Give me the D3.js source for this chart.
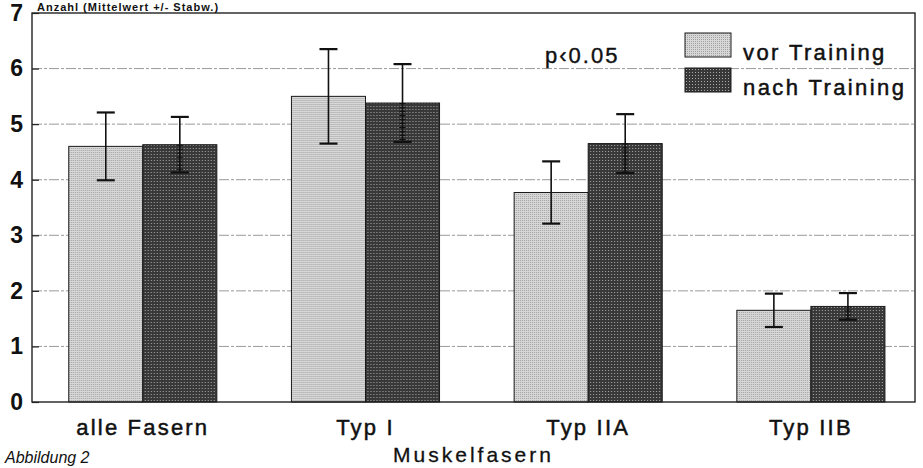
<!DOCTYPE html>
<html>
<head>
<meta charset="utf-8">
<script src="https://cdn.jsdelivr.net/npm/d3@7"></script>
<style>
  body { margin: 0; background: #fff; }
  svg { display: block; }
  text { font-family: "Liberation Sans", Arial, sans-serif; fill: #111; }
</style>
</head>
<body>
<div id="chart"></div>
<script>
// categories and series
const categories = ['alle Fasern', 'Typ I', 'Typ IIA', 'Typ IIB'];
const seriesNames = ['vor Training', 'nach Training'];
const vorMean = [4.60, 5.50, 3.77, 1.65];
const vorSd = [0.61, 0.85, 0.56, 0.30];
const nachMean = [4.63, 5.38, 4.65, 1.72];
const nachSd = [0.50, 0.70, 0.53, 0.24];
const yTicks = [0, 1, 2, 3, 4, 5, 6, 7];

const width = 923;
const height = 468;
const margin = { top: 13, right: 8, bottom: 66, left: 32 };

const svg = d3.select('#chart')
  .append('svg')
  .attr('width', width)
  .attr('height', height);

// fill patterns imitating the printed screen tones
const defs = svg.append('defs');
const pVor = defs.append('pattern')
  .attr('id', 'pat-vor')
  .attr('width', 2).attr('height', 2)
  .attr('patternUnits', 'userSpaceOnUse');
pVor.append('rect').attr('width', 2).attr('height', 2).attr('fill', '#d8d8d8');
pVor.append('rect').attr('width', 1).attr('height', 1).attr('fill', '#a0a0a0');

const pNach = defs.append('pattern')
  .attr('id', 'pat-nach')
  .attr('width', 3).attr('height', 3)
  .attr('patternUnits', 'userSpaceOnUse');
pNach.append('rect').attr('width', 3).attr('height', 3).attr('fill', '#383838');
pNach.append('rect').attr('x', 1).attr('y', 1).attr('width', 1).attr('height', 1).attr('fill', '#a8a8a8');

const x = d3.scaleBand()
  .domain(categories)
  .range([margin.left, width - margin.right])
  .paddingInner(0.335)
  .paddingOuter(0.15)
  .align(0.55);

const xSub = d3.scaleBand()
  .domain(seriesNames)
  .range([0, x.bandwidth()]);

const y = d3.scaleLinear()
  .domain([0, 7])
  .range([height - margin.bottom, margin.top]);

// dashed grid lines
svg.append('g')
  .selectAll('line')
  .data(yTicks.slice(1, -1))
  .join('line')
  .attr('x1', margin.left)
  .attr('x2', width - margin.right)
  .attr('y1', d => y(d))
  .attr('y2', d => y(d))
  .attr('stroke', '#9a9a9a')
  .attr('stroke-width', 1)
  .attr('stroke-dasharray', '10,2,3,2');

// y axis labels
const yAxis = d3.axisLeft(y).tickValues(yTicks).tickSize(-7).tickPadding(9).tickFormat(d3.format('d'));
const gy = svg.append('g')
  .attr('transform', `translate(${margin.left},0)`)
  .call(yAxis);
gy.select('.domain').remove();
gy.selectAll('line').attr('stroke', '#222').attr('stroke-width', 1.2);
gy.selectAll('text')
  .style('font-size', '23px')
  .style('font-weight', 'bold')
  .attr('fill', '#111');

// table of bars built from arrays
const rows = categories.map((c, i) => ({
  cat: c,
  values: [
    { name: seriesNames[0], mean: vorMean[i], sd: vorSd[i], fill: 'url(#pat-vor)', dark: false },
    { name: seriesNames[1], mean: nachMean[i], sd: nachSd[i], fill: 'url(#pat-nach)', dark: true },
  ],
}));

const groups = svg.append('g')
  .selectAll('g')
  .data(rows)
  .join('g')
  .attr('transform', d => `translate(${x(d.cat)},0)`);

groups.selectAll('rect')
  .data(d => d.values)
  .join('rect')
  .attr('x', d => xSub(d.name))
  .attr('y', d => y(d.mean))
  .attr('width', xSub.bandwidth())
  .attr('height', d => y(0) - y(d.mean))
  .attr('fill', d => d.fill)
  .attr('stroke', '#1a1a1a')
  .attr('stroke-width', 1);

// error bars
const err = groups.selectAll('g.err')
  .data(d => d.values)
  .join('g')
  .attr('class', 'err')
  .attr('transform', d => `translate(${xSub(d.name) + xSub.bandwidth() / 2},0)`);

err.append('line')
  .attr('y1', d => y(d.mean + d.sd))
  .attr('y2', d => y(d.mean - d.sd))
  .attr('stroke', '#111')
  .attr('stroke-width', 1.6);

// ladder look of the lower whisker inside the dark bars
err.filter(d => d.dark)
  .append('line')
  .attr('y1', d => y(d.mean))
  .attr('y2', d => y(d.mean - d.sd))
  .attr('stroke', '#111')
  .attr('stroke-width', 6)
  .attr('stroke-dasharray', '1,3');

err.append('line')
  .attr('x1', -9).attr('x2', 9)
  .attr('y1', d => y(d.mean + d.sd))
  .attr('y2', d => y(d.mean + d.sd))
  .attr('stroke', '#111')
  .attr('stroke-width', 2.2);

err.append('line')
  .attr('x1', -9).attr('x2', 9)
  .attr('y1', d => y(d.mean - d.sd))
  .attr('y2', d => y(d.mean - d.sd))
  .attr('stroke', '#111')
  .attr('stroke-width', 2.2);

// frame
svg.append('rect')
  .attr('x', margin.left)
  .attr('y', y(7))
  .attr('width', width - margin.right - margin.left)
  .attr('height', y(0) - y(7))
  .attr('fill', 'none')
  .attr('stroke', '#222')
  .attr('stroke-width', 1.4);

// category labels
svg.append('g')
  .selectAll('text')
  .data(categories)
  .join('text')
  .attr('x', d => x(d) + x.bandwidth() / 2)
  .attr('y', 435)
  .attr('text-anchor', 'middle')
  .style('font-size', '22px')
  .style('letter-spacing', '2.2px')
  .style('stroke', '#111')
  .style('stroke-width', 0.5)
  .text(d => d);

// x axis title
svg.append('text')
  .attr('x', (margin.left + width - margin.right) / 2)
  .attr('y', 462)
  .attr('text-anchor', 'middle')
  .style('font-size', '21px')
  .style('letter-spacing', '3px')
  .style('stroke', '#111')
  .style('stroke-width', 0.3)
  .text('Muskelfasern');

// figure caption
svg.append('text')
  .attr('x', 5)
  .attr('y', 463)
  .style('font-size', '16px')
  .style('font-style', 'italic')
  .attr('fill', '#333')
  .text('Abbildung 2');

// y axis title above the frame
svg.append('text')
  .attr('x', 37)
  .attr('y', 11)
  .style('font-size', '11px')
  .style('font-weight', 'bold')
  .style('letter-spacing', '1px')
  .text('Anzahl (Mittelwert +/- Stabw.)');

// significance note
svg.append('text')
  .attr('x', 545)
  .attr('y', 63)
  .style('font-size', '22px')
  .style('letter-spacing', '2px')
  .style('stroke', '#111')
  .style('stroke-width', 0.4)
  .text('p‹0.05');

// legend
const legend = svg.append('g')
  .attr('transform', 'translate(685,33)');

const legendItems = legend.selectAll('g')
  .data([{ name: seriesNames[0], fill: 'url(#pat-vor)' }, { name: seriesNames[1], fill: 'url(#pat-nach)' }])
  .join('g')
  .attr('transform', (d, i) => `translate(0,${i * 35})`);

legendItems.append('rect')
  .attr('width', 46)
  .attr('height', 24)
  .attr('fill', d => d.fill)
  .attr('stroke', '#1a1a1a')
  .attr('stroke-width', 1);

legendItems.append('text')
  .attr('x', 58)
  .attr('y', 27)
  .style('font-size', '22px')
  .style('letter-spacing', '2.4px')
  .style('stroke', '#111')
  .style('stroke-width', 0.5)
  .text(d => d.name);
</script>
</body>
</html>
